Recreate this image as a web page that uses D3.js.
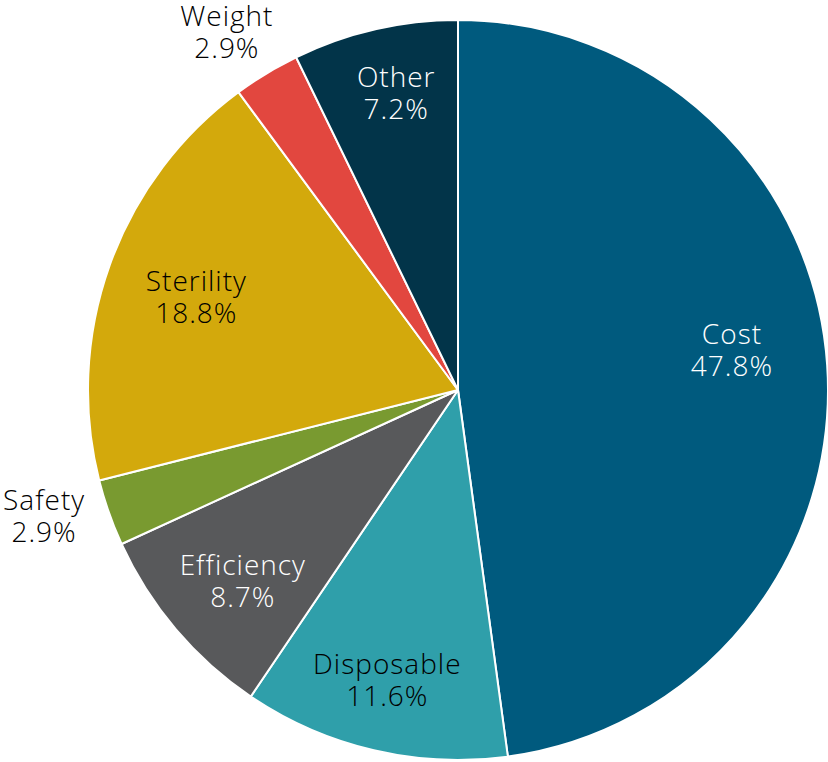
<!DOCTYPE html>
<html>
<head>
<meta charset="utf-8">
<script src="https://cdn.jsdelivr.net/npm/d3@7"></script>
<style>
  html, body { margin: 0; padding: 0; background: #fff; }
  svg { display: block; }
  text { font-family: "Open Sans", Lato, sans-serif; font-weight: 300; letter-spacing: 1px; }
</style>
</head>
<body>
<svg id="chart" width="828" height="762"></svg>
<script>
// Share of responses by category, clockwise from 12 o'clock
const categories = ["Cost", "Disposable", "Efficiency", "Safety", "Sterility", "Weight", "Other"];
const values = [47.8, 11.6, 8.7, 2.9, 18.8, 2.9, 7.2];
const valueLabels = ["47.8%", "11.6%", "8.7%", "2.9%", "18.8%", "2.9%", "7.2%"];
const colors = ["#005a7e", "#2f9faa", "#58595b", "#799a30", "#d3a90c", "#e2473f", "#023449"];
const textColors = ["#fff", "#000", "#fff", "#000", "#000", "#000", "#fff"];

const width = 828, height = 762;
const cx = 458, cy = 390, R = 370;

const svg = d3.select("#chart");
const g = svg.append("g").attr("transform", `translate(${cx},${cy})`);

const data = categories.map((c, i) => ({ name: c, value: values[i], label: valueLabels[i], color: colors[i], text: textColors[i] }));

const pie = d3.pie().value(d => d.value).sort(null);
const arcs = pie(data);

const arc = d3.arc().innerRadius(0).outerRadius(R);
const inArc = d3.arc().innerRadius(R * 0.78).outerRadius(R * 0.78);
const outArc = d3.arc().innerRadius(R * 1.16).outerRadius(R * 1.16);

// small label adjustments so text blocks sit clear of slice edges
const labelNudge = {
  Cost: [-14, -20], Disposable: [-5, 9], Efficiency: [5, 5], Safety: [-9, -16],
  Sterility: [10, 5], Weight: [-9, 9], Other: [3, -16]
};

g.selectAll("path.slice")
  .data(arcs)
  .join("path")
  .attr("class", "slice")
  .attr("d", arc)
  .attr("fill", d => d.data.color)
  .attr("stroke", "#fff")
  .attr("stroke-width", 2)
  .attr("stroke-linejoin", "round");

const fontSize = 28, lineH = 32;
const small = d => d.data.value < 5;

const labels = g.selectAll("text.lbl")
  .data(arcs)
  .join("text")
  .attr("class", "lbl")
  .attr("text-anchor", "middle")
  .attr("font-size", fontSize)
  .attr("fill", d => small(d) ? "#000" : d.data.text)
  .attr("transform", d => {
    const [x, y] = (small(d) ? outArc : inArc).centroid(d);
    const [dx, dy] = labelNudge[d.data.name] || [0, 0];
    return `translate(${x + dx},${y + dy})`;
  });

labels.append("tspan")
  .attr("x", 0)
  .attr("y", -lineH / 2 + fontSize * 0.35)
  .text(d => d.data.name);
labels.append("tspan")
  .attr("x", 0)
  .attr("y", lineH / 2 + fontSize * 0.35)
  .text(d => d.data.label);
</script>
</body>
</html>
